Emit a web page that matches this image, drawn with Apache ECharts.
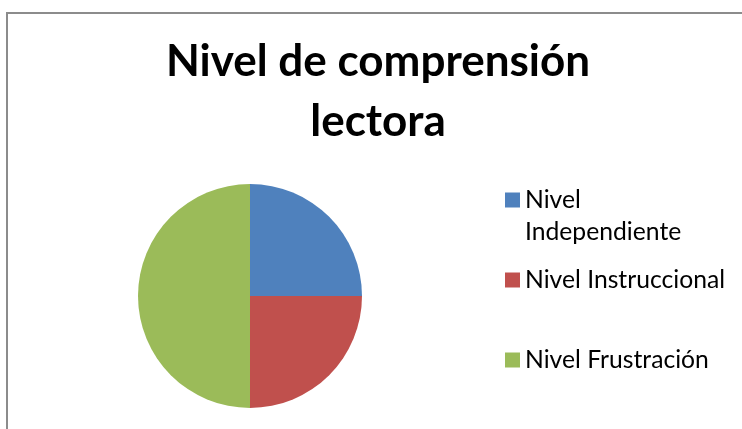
<!DOCTYPE html>
<html>
<head>
<meta charset="utf-8">
<script src="https://cdn.jsdelivr.net/npm/echarts@6/dist/echarts.min.js"></script>
<style>
  html, body { margin: 0; padding: 0; background: #fff; }
  #chart { width: 742px; height: 429px; }
</style>
</head>
<body>
<div id="chart"></div>
<script>
var titleText = 'Nivel de comprensión\nlectora';
var categories = ['Nivel Independiente', 'Nivel Instruccional', 'Nivel Frustración'];
var values = [25, 25, 50];
var colors = ['#4F81BD', '#C0504D', '#9BBB59'];

window.onload = function () {
  var myChart = echarts.init(document.getElementById('chart'));

  var font = 'Lato, "Liberation Sans", sans-serif';

  function legendAt(name, top) {
    return {
      data: [name],
      orient: 'vertical',
      left: 505,
      top: top,
      padding: 0,
      icon: 'rect',
      itemWidth: 15,
      itemHeight: 15,
      itemGap: 0,
      selectedMode: false,
      formatter: function (n) {
        // the first entry wraps onto two lines, the square sits on the first one
        return n === 'Nivel Independiente' ? ' \nNivel\nIndependiente' : n;
      },
      textStyle: { fontFamily: font, fontSize: 24.7, color: '#000', lineHeight: 32 }
    };
  }

  var option = {
    animation: false,
    title: {
      text: titleText,
      left: 378,
      top: 32,
      padding: 0,
      textAlign: 'center',
      textStyle: {
        fontFamily: font,
        fontSize: 44,
        fontWeight: 'bold',
        color: '#000',
        lineHeight: 60
      }
    },
    legend: [
      legendAt(categories[0], 152),
      legendAt(categories[1], 264),
      legendAt(categories[2], 344)
    ],
    graphic: [
      {
        type: 'rect',
        shape: { x: 7, y: 13, width: 800, height: 500 },
        style: { fill: 'none', stroke: '#8c8c8c', lineWidth: 2 },
        silent: true
      }
    ],
    series: [
      {
        type: 'pie',
        center: [250, 296],
        radius: 112,
        startAngle: 90,
        clockwise: true,
        label: { show: false },
        labelLine: { show: false },
        emphasis: { disabled: true },
        itemStyle: { borderWidth: 0 },
        data: categories.map(function (c, i) {
          return { name: c, value: values[i], itemStyle: { color: colors[i] } };
        })
      }
    ]
  };

  myChart.setOption(option);
};
</script>
</body>
</html>
